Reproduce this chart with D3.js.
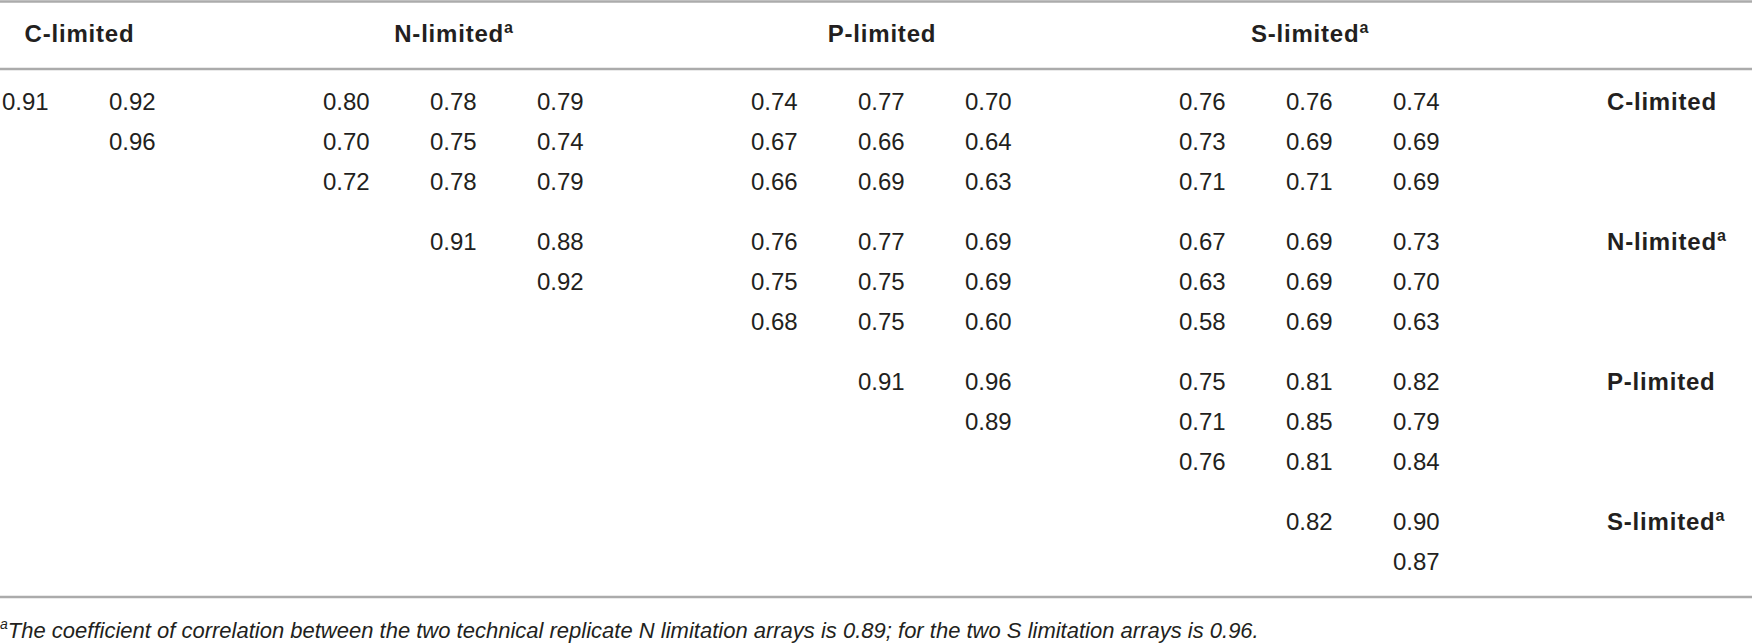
<!DOCTYPE html>
<html>
<head>
<meta charset="utf-8">
<script src="https://cdn.jsdelivr.net/npm/d3@7"></script>
<style>
  html, body { margin: 0; padding: 0; background: #fff; }
  svg { display: block; }
</style>
</head>
<body>
<svg id="chart" width="1752" height="644"></svg>
<script>
// ---- data ----
const groups = ["C-limited", "N-limited", "P-limited", "S-limited"];
const groupSup = ["", "a", "", "a"];
// Each row: values for column groups C, N, P, S (3 replicate columns each; null = blank)
const cLimitedRows = [
  [[null, 0.91, 0.92], [0.80, 0.78, 0.79], [0.74, 0.77, 0.70], [0.76, 0.76, 0.74]],
  [[null, null, 0.96], [0.70, 0.75, 0.74], [0.67, 0.66, 0.64], [0.73, 0.69, 0.69]],
  [[null, null, null], [0.72, 0.78, 0.79], [0.66, 0.69, 0.63], [0.71, 0.71, 0.69]]
];
const nLimitedRows = [
  [[null, null, null], [null, 0.91, 0.88], [0.76, 0.77, 0.69], [0.67, 0.69, 0.73]],
  [[null, null, null], [null, null, 0.92], [0.75, 0.75, 0.69], [0.63, 0.69, 0.70]],
  [[null, null, null], [null, null, null], [0.68, 0.75, 0.60], [0.58, 0.69, 0.63]]
];
const pLimitedRows = [
  [[null, null, null], [null, null, null], [null, 0.91, 0.96], [0.75, 0.81, 0.82]],
  [[null, null, null], [null, null, null], [null, null, 0.89], [0.71, 0.85, 0.79]],
  [[null, null, null], [null, null, null], [null, null, null], [0.76, 0.81, 0.84]]
];
const sLimitedRows = [
  [[null, null, null], [null, null, null], [null, null, null], [null, 0.82, 0.90]],
  [[null, null, null], [null, null, null], [null, null, null], [null, null, 0.87]]
];
const rowGroups = [cLimitedRows, nLimitedRows, pLimitedRows, sLimitedRows];
const footnoteSup = "a";
const footnoteText = "The coefficient of correlation between the two technical replicate N limitation arrays is 0.89; for the two S limitation arrays is 0.96.";

// ---- layout ----
const svg = d3.select("#chart");
const W = 1752;
const slotOf = (g, c) => 4 * g + c - 1;        // column slot index
const x = d3.scaleLinear().domain([0, 15]).range([2, 1607]);
const y = d3.scaleLinear().domain([0, 1]).range([110, 150]);   // baseline of row slot
const rowSlot = (g, r) => 3.5 * g + r;
const numW = 48;

const lineColor = "#ababab";
[1.5, 69, 597].forEach(ly => {
  svg.append("line").attr("x1", 0).attr("x2", W).attr("y1", ly).attr("y2", ly)
    .attr("stroke", lineColor).attr("stroke-width", 2.5);
});

// headers
groups.forEach((name, g) => {
  const first = Math.max(0, slotOf(g, 0));
  const last = slotOf(g, 2);
  const cx = (x(first) + x(last) + numW) / 2;
  const t = svg.append("text")
    .attr("x", cx).attr("y", 42)
    .attr("text-anchor", "middle")
    .attr("font-family", "'Liberation Sans', Arial, sans-serif")
    .attr("font-weight", "bold").attr("font-size", 24)
    .attr("letter-spacing", 0.8)
    .attr("fill", "#231f20");
  t.append("tspan").text(name);
  if (groupSup[g]) t.append("tspan").attr("dy", -9).attr("font-size", 16).text(groupSup[g]);
});

// cells
const cells = [];
rowGroups.forEach((rows, g) => {
  rows.forEach((row, r) => {
    row.forEach((vals, cg) => {
      vals.forEach((v, c) => {
        if (v !== null) cells.push({ g, r, cg, c, v });
      });
    });
  });
});
svg.selectAll("text.cell").data(cells).enter().append("text")
  .attr("class", "cell")
  .attr("x", d => x(slotOf(d.cg, d.c)))
  .attr("y", d => y(rowSlot(d.g, d.r)))
  .attr("font-family", "'Liberation Sans', Arial, sans-serif")
  .attr("font-size", 24)
  .attr("fill", "#231f20")
  .text(d => d3.format(".2f")(d.v));

// row labels
groups.forEach((name, g) => {
  const t = svg.append("text")
    .attr("x", x(15)).attr("y", y(rowSlot(g, 0)))
    .attr("font-family", "'Liberation Sans', Arial, sans-serif")
    .attr("font-weight", "bold").attr("font-size", 24)
    .attr("letter-spacing", 0.8)
    .attr("fill", "#231f20");
  t.append("tspan").text(name);
  if (groupSup[g]) t.append("tspan").attr("dy", -9).attr("font-size", 16).text(groupSup[g]);
});

// footnote
const fn = svg.append("text")
  .attr("x", 0).attr("y", 638)
  .attr("font-family", "'Liberation Sans', Arial, sans-serif")
  .attr("font-style", "italic").attr("font-size", 22)
  .attr("fill", "#231f20");
fn.append("tspan").attr("font-size", 14).attr("dy", -9).text(footnoteSup);
fn.append("tspan").attr("dy", 9).text(footnoteText);
</script>
</body>
</html>
